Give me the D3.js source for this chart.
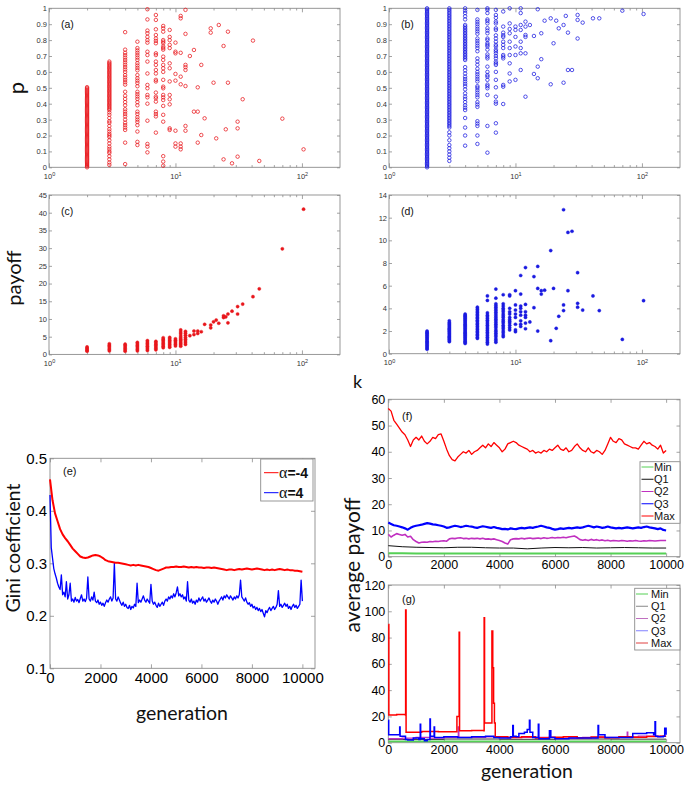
<!DOCTYPE html>
<html><head><meta charset="utf-8">
<script src="https://cdn.jsdelivr.net/npm/d3@7"></script>
<style>body{margin:0;background:#fff}svg{display:block}</style>
</head><body>
<svg id="c" width="685" height="785"></svg>
<script>
// ---------- DATA ----------
const degA = [2,3,4,5,6,7,8,9,10,11,12,13,14,15,16,17,19,20,21,22,24,25,26,28,31,34,41,46,70,103];
const pA = [
 [0,0.007,0.014,0.021,0.028,0.035,0.042,0.049,0.056,0.063,0.07,0.077,0.084,0.091,0.098,0.105,0.112,0.119,0.126,0.133,0.14,0.147,0.154,0.161,0.168,0.175,0.182,0.189,0.196,0.203,0.21,0.217,0.224,0.231,0.238,0.245,0.252,0.259,0.266,0.273,0.28,0.287,0.294,0.301,0.308,0.315,0.322,0.329,0.336,0.343,0.35,0.357,0.364,0.371,0.378,0.385,0.392,0.399,0.406,0.413,0.42,0.427,0.434,0.441,0.448,0.455,0.462,0.469,0.476,0.483,0.49,0.497,0.504],
 [0.015,0.03,0.05,0.07,0.09,0.1,0.115,0.13,0.15,0.17,0.19,0.2,0.21,0.225,0.24,0.26,0.28,0.29,0.31,0.33,0.345,0.36,0.368,0.376,0.384,0.392,0.4,0.408,0.416,0.424,0.432,0.44,0.448,0.456,0.464,0.472,0.48,0.488,0.496,0.504,0.512,0.52,0.528,0.536,0.544,0.552,0.56,0.568,0.576,0.584,0.592,0.6,0.608,0.616,0.624,0.632,0.64,0.648,0.656,0.665],
 [0.02,0.155,0.235,0.25,0.265,0.28,0.3,0.32,0.335,0.35,0.365,0.39,0.41,0.43,0.45,0.475,0.52,0.535,0.55,0.565,0.58,0.6,0.615,0.63,0.645,0.66,0.675,0.69,0.705,0.72,0.74,0.85],
 [0.14,0.16,0.225,0.265,0.285,0.3,0.315,0.335,0.35,0.39,0.41,0.43,0.445,0.46,0.475,0.51,0.53,0.545,0.56,0.58,0.61,0.625,0.64,0.655,0.675,0.69,0.705,0.72,0.735,0.75,0.79],
 [0.094,0.13,0.147,0.293,0.4,0.44,0.455,0.497,0.518,0.59,0.665,0.706,0.727,0.784,0.8,0.82,0.843,0.86,0.93,0.994],
 [0.218,0.32,0.335,0.35,0.413,0.434,0.444,0.47,0.54,0.55,0.59,0.612,0.644,0.665,0.706,0.717,0.78,0.795,0.81,0.832,0.868,0.927,0.958],
 [0.01,0.036,0.07,0.287,0.33,0.386,0.423,0.44,0.455,0.497,0.507,0.55,0.6,0.623,0.644,0.675,0.696,0.74,0.75,0.76,0.78,0.79,0.8,0.853,0.874,0.889],
 [0.235,0.245,0.396,0.428,0.455,0.54,0.623,0.654,0.75,0.77,0.8,0.82,0.864],
 [0.13,0.15,0.23,0.545,0.587,0.717,0.727,0.784],
 [0.113,0.13,0.15,0.522,0.57,0.72,0.937,0.952],
 [0.23,0.26,0.511,0.612,0.63,0.644,0.839,0.99],
 [0.7],[0.35,0.738],[0.155,0.35,0.503],[0.203,0.644],[0.308],[0.847,0.874],[0.532],[0.182],[0.895],
 [0.05,0.763],[0.239],[0.532,0.853],[0.025],[0.067,0.245,0.287],[0.428],[0.797],[0.04],[0.306],[0.113]
];
const degB = [2,3,4,5,6,7,8,9,10,11,12,13,14,15,16,17,19,20,21,22,24,25,26,28,31,34,41,46,70,103];
const pB = [
 [0,0.008,0.016,0.024,0.032,0.04,0.048,0.056,0.064,0.072,0.08,0.088,0.096,0.104,0.112,0.12,0.128,0.136,0.144,0.152,0.16,0.168,0.176,0.184,0.192,0.2,0.208,0.216,0.224,0.232,0.24,0.248,0.256,0.264,0.272,0.28,0.288,0.296,0.304,0.312,0.32,0.328,0.336,0.344,0.352,0.36,0.368,0.376,0.384,0.392,0.4,0.408,0.416,0.424,0.432,0.44,0.448,0.456,0.464,0.472,0.48,0.488,0.496,0.504,0.512,0.52,0.528,0.536,0.544,0.552,0.56,0.568,0.576,0.584,0.592,0.6,0.608,0.616,0.624,0.632,0.64,0.648,0.656,0.664,0.672,0.68,0.688,0.696,0.704,0.712,0.72,0.728,0.736,0.744,0.752,0.76,0.768,0.776,0.784,0.792,0.8,0.808,0.816,0.824,0.832,0.84,0.848,0.856,0.864,0.872,0.88,0.888,0.896,0.904,0.912,0.92,0.928,0.936,0.944,0.952,0.96,0.968,0.976,0.984,0.992,1.0],
 [0.04,0.06,0.08,0.1,0.12,0.14,0.17,0.2,0.22,0.25,0.26,0.27,0.28,0.29,0.3,0.31,0.32,0.33,0.34,0.35,0.36,0.37,0.38,0.39,0.4,0.41,0.42,0.43,0.44,0.45,0.46,0.47,0.48,0.49,0.5,0.51,0.52,0.53,0.54,0.55,0.56,0.57,0.58,0.59,0.6,0.61,0.62,0.63,0.64,0.65,0.66,0.67,0.68,0.69,0.7,0.71,0.72,0.73,0.74,0.75,0.76,0.77,0.78,0.79,0.8,0.81,0.82,0.83,0.84,0.85,0.86,0.87,0.88,0.89,0.9,0.91,0.92,0.93,0.94,0.95,0.96,0.97,0.98,0.99,1.0],
 [0.136,0.2,0.25,0.31,0.36,0.375,0.39,0.41,0.43,0.445,0.465,0.49,0.51,0.525,0.54,0.555,0.57,0.59,0.61,0.63,0.675,0.685,0.695,0.705,0.715,0.725,0.735,0.745,0.755,0.765,0.775,0.785,0.795,0.805,0.815,0.825,0.835,0.845,0.855,0.865,0.875,0.885,0.895,0.93,0.95,0.97,0.985,1.0],
 [0.147,0.2,0.26,0.275,0.29,0.38,0.395,0.41,0.44,0.455,0.47,0.485,0.5,0.51,0.54,0.555,0.57,0.585,0.6,0.62,0.645,0.665,0.685,0.73,0.75,0.765,0.78,0.795,0.81,0.84,0.855,0.87,0.885,0.9,0.915,0.93,0.99],
 [0.092,0.26,0.455,0.497,0.51,0.52,0.55,0.57,0.58,0.6,0.633,0.685,0.696,0.71,0.74,0.76,0.77,0.78,0.8,0.81,0.843,0.86,0.875,0.905,0.92,0.93,0.97,0.99,1.0],
 [0.218,0.277,0.4,0.413,0.444,0.503,0.55,0.6,0.644,0.654,0.665,0.685,0.7,0.717,0.73,0.74,0.76,0.77,0.79,0.81,0.83,0.864,0.874,0.905,0.916,0.94,0.958,0.99],
 [0.398,0.507,0.518,0.685,0.696,0.706,0.75,0.77,0.79,0.82,0.83,0.847,0.885,0.98],
 [0.54,0.59,0.654,0.706,0.75,0.79,0.843,0.87,0.905,1.0],
 [0.55,0.706,0.76,0.82,0.864,0.885],
 [0.612,0.717,0.75,0.79,0.864,0.895,0.97,1.0],
 [0.444,0.717,0.82,0.832,0.885,0.916],
 [0.895],[0.587,0.826],[0.56,0.633,0.994],[0.68,0.843],[0.922],[0.522,0.937],[0.78],[0.922],[0.874],
 [0.532,0.895],[0.952],[0.612,0.847],[0.612],[0.81,0.927,0.958],[0.91],[0.937],[0.937],[0.985],[0.964]
];
const degC = [2,3,4,5,6,7,8,9,10,11,12,13,14,15,16,17,19,20,21,22,24,25,26,28,31,34,41,46,70,103];
const payC = [
 [0.9,1.2,1.5,1.8,2.1],[1.0,1.4,1.8,2.2,2.6,3.0],[0.9,1.3,1.7,2.1,2.5,2.9],[1.0,1.4,1.8,2.2,2.6,3.0,3.4],
 [1.1,1.5,1.9,2.3,2.7,3.1,3.5,3.9],[1.3,1.7,2.1,2.5,2.9,3.3,3.7],[1.9,2.3,2.7,3.1,3.5,3.9,4.3,4.7],
 [2.0,2.4,2.8,3.2,3.6,4.0,4.4,4.8],[2.4,2.8,3.2,3.6,4.0,4.4],[2.3,2.7,3.1,3.5,3.9,4.3,4.7,5.2,5.8,6.3,6.9],
 [2.8,3.3,3.8,4.3,4.8,5.4,6.0,6.5],[5.3],[5.6,6.6],[5.9,6.6],[6.4],[8.5],[7.5,8.3],[9.2],[9.7],[8.8],
 [10.4,10.9],[10.6],[8.9,11.4],[12.2],[11.4,13.5],[14.2],[16.3],[18.5],[29.8],[41.0]
];
const degD = [2,3,4,5,6,7,8,9,10,11,12,13,14,15,16,17,19,20,21,22,24,26,28,31,34,41,46,70,103];
const payD = [
 [0.4,0.5,0.6,0.7,0.8,0.9,1.0,1.1,1.2,1.3,1.4,1.5,1.6,1.7,1.8,1.9,2.0],
 [1.06,1.15,1.25,1.35,1.45,1.55,1.65,1.75,1.85,1.95,2.05,2.15,2.25,2.35,2.45,2.55,2.65,2.75,2.9],
 [0.9,1.0,1.1,1.2,1.3,1.4,1.5,1.6,1.7,1.8,1.9,2.0,2.1,2.2,2.3,2.4,2.5,2.6,2.7,2.8,2.9,3.0,3.1,3.2,3.3,3.4,3.5],
 [1.35,1.45,1.6,1.7,1.85,1.95,2.1,2.2,2.35,2.45,2.6,2.7,2.85,2.95,3.1,3.2,3.35,3.45,3.6,3.7,3.85,3.95,4.1],
 [0.85,1.0,1.15,1.3,1.45,1.6,1.75,1.9,2.05,2.2,2.35,2.5,2.65,2.8,2.95,3.1,3.25,3.4,3.6,4.7,5.1],
 [1.0,1.15,1.3,1.5,1.65,1.8,1.95,2.1,2.3,2.45,2.6,2.75,2.9,3.05,3.2,3.35,3.5,3.65,3.8,3.95,4.1,4.25,4.4,4.9,5.7],
 [1.5,1.65,1.85,2.0,2.2,2.35,2.5,2.7,2.85,3.0,3.2,3.35,3.5,3.7,3.85,4.0,4.2,4.4,5.2],
 [2.1,2.3,2.5,2.7,2.85,3.0,3.2,3.5,3.7,4.0,5.1,5.2],
 [1.94,2.1,2.6,3.2,3.5,3.85,4.3,5.56],
 [2.4,2.6,2.9,3.4,3.7,4.0,4.2,5.26,6.9],
 [2.2,2.7,3.2,3.4,3.7,4.35,7.6],
 [2.8],[4.06,6.8],[2.0,5.76,7.7],[5.26,5.56],[5.6],[1.15,9.1],[5.76],[2.24],[3.3],
 [3.8,4.3,12.7],[5.56,10.7],[10.8],[4.1,4.44,7.15],[3.85],[5.1],[3.8],[1.26],[4.68]
];
const logMajor = [1,10,100];
const logMinor = [2,3,4,5,6,7,8,9,20,30,40,50,60,70,80,90];
const pTicks = [0,0.1,0.2,0.3,0.4,0.5,0.6,0.7,0.8,0.9,1];
const cTicks = [0,5,10,15,20,25,30,35,40,45];
const dTicks = [0,2,4,6,8,10,12,14];
const genTicks = [0,2000,4000,6000,8000,10000];

// (e) Gini coefficient
const genE100 = d3.range(0, 10001, 100);
const giniNeg = [
 0.46,0.42,0.395,0.38,0.365,0.355,0.348,0.342,0.335,0.328,
 0.323,0.318,0.313,0.311,0.31,0.311,0.313,0.315,0.316,0.315,
 0.313,0.31,0.306,0.304,0.303,0.302,0.301,0.301,0.3,0.299,
 0.298,0.297,0.296,0.297,0.296,0.297,0.296,0.295,0.294,0.293,
 0.291,0.289,0.287,0.286,0.288,0.29,0.292,0.292,0.293,0.293,
 0.294,0.293,0.293,0.294,0.293,0.292,0.293,0.292,0.293,0.292,
 0.292,0.291,0.292,0.292,0.291,0.292,0.291,0.29,0.289,0.288,
 0.287,0.288,0.288,0.287,0.288,0.289,0.288,0.289,0.29,0.289,
 0.288,0.289,0.29,0.289,0.288,0.287,0.288,0.287,0.288,0.287,
 0.288,0.289,0.288,0.287,0.288,0.287,0.287,0.286,0.286,0.285,
 0.284];
const genE50 = d3.range(0, 10001, 50);
const giniPos = [
 0.43,0.33,0.31,0.29,0.28,0.272,0.262,0.255,0.25,0.278,
 0.24,0.245,0.236,0.265,0.232,0.24,0.262,0.228,0.232,0.226,
 0.235,0.228,0.231,0.225,0.233,0.24,0.228,0.232,0.227,0.234,
 0.274,0.232,0.228,0.236,0.23,0.245,0.228,0.225,0.23,0.222,
 0.226,0.22,0.224,0.218,0.225,0.23,0.226,0.232,0.236,0.228,
 0.234,0.3,0.232,0.228,0.236,0.23,0.224,0.22,0.226,0.218,
 0.222,0.216,0.214,0.22,0.212,0.218,0.215,0.222,0.218,0.262,
 0.225,0.23,0.226,0.232,0.238,0.23,0.226,0.232,0.228,0.224,
 0.26,0.228,0.222,0.226,0.22,0.216,0.224,0.218,0.222,0.226,
 0.22,0.228,0.232,0.228,0.236,0.232,0.238,0.234,0.242,0.236,
 0.244,0.255,0.238,0.242,0.236,0.24,0.232,0.236,0.228,0.265,
 0.23,0.226,0.232,0.224,0.228,0.222,0.23,0.226,0.234,0.228,
 0.232,0.236,0.228,0.232,0.226,0.23,0.234,0.228,0.224,0.23,
 0.226,0.232,0.228,0.222,0.228,0.232,0.236,0.23,0.238,0.234,
 0.24,0.236,0.232,0.238,0.234,0.23,0.236,0.232,0.238,0.234,
 0.24,0.268,0.236,0.232,0.228,0.234,0.226,0.222,0.225,0.218,
 0.222,0.215,0.218,0.212,0.216,0.21,0.214,0.208,0.212,0.205,
 0.198,0.21,0.206,0.212,0.216,0.21,0.214,0.218,0.212,0.216,
 0.222,0.248,0.218,0.222,0.216,0.22,0.224,0.218,0.222,0.214,
 0.218,0.212,0.218,0.222,0.216,0.22,0.214,0.218,0.222,0.268,
 0.228];

// (f) average payoff, alpha = -4
const genF100 = d3.range(0, 10001, 100);
const genF500 = d3.range(0, 10001, 500);
const maxF = [
 56.5,55.5,52,50.5,49,47.5,46.5,44.5,42,44.5,
 45.5,44.5,46,44,43,44,45.5,45,46.5,46.8,
 44,41,38.5,37,36.5,38,39,40,39.5,40.5,
 39,40,40.5,41.5,42.5,41.5,43,42,43.5,42.5,
 41.5,40,41,43,43.5,44,43.5,42.5,42,41.5,
 41,40,40.5,39.5,40,39.5,40.5,40,41,40.5,
 41.5,42.5,41,40.5,41.5,40,40.5,42,43,41.5,
 40.5,40,41.5,40,39.5,40.5,40,39,40.5,43,
 45.5,44,43.5,45,44.5,43,42.5,42,41.5,41.5,
 41,42.5,44,43,43.5,42.5,42,41,42.5,39.5,
 40.5];
const q3F = [
 13,12.5,12,11.8,11.5,11.2,10.8,10.3,11,11.5,
 11.8,12,12.2,12.5,12.8,12.6,12.3,12.2,12,11.8,
 11.5,11,11.2,11.5,11.8,11.6,11.3,11.5,11.8,11.6,
 11.5,11.2,11,11.3,11.6,11.4,11.2,11,11.3,11,
 10.8,10.5,10.6,10.4,10.8,10.6,10.5,10.8,11,10.8,
 11,11.2,11,11.3,11.5,11.8,11.5,11.2,11,10.6,
 10.3,10.5,10.8,10.6,10.8,11,10.8,11,11.2,11,
 11.2,11.5,11.8,11.5,11.2,11.5,11.3,11,11.2,11.5,
 11.2,11,10.8,11,10.8,11,11.2,11,10.8,11,
 11.2,11,11.3,11.5,11.2,11,10.8,10.5,10.8,10.2,
 10];
const q2F = [
 8.5,7.5,8.2,8.8,8.5,8.2,8.5,7.5,7.8,6.5,
 5.8,5.2,5.5,5.6,5.5,5.8,5.7,5.9,5.8,6,
 6.1,5.9,6.8,7,6.9,7.1,7.2,6.9,7,6.8,
 7,6.9,7,6.8,7,6.7,6.8,6.6,6.8,6.5,
 6.2,5.8,5.2,4.8,6.5,6.8,6.9,6.8,7,6.8,
 7,7.1,6.9,7,7.1,6.9,7.2,7,7.1,7.3,
 7.1,7.3,7.2,7.4,7.2,7.5,7.7,7.9,7.3,6.5,
 6.3,6.5,6.2,6.6,6.3,6.5,6.2,6.4,6.1,6.3,
 6,6.2,6.1,6,6.2,6.1,5.9,6.1,6,6.2,
 6,5.9,6.1,6,6.2,6.1,6,6.1,6.2,6.2,
 6.2];
const q1F = [4.2,3.8,3.6,3.5,3.4,3.6,3.6,3.4,3.3,3.3,3.0,3.3,3.5,3.4,3.5,3.3,3.4,3.5,3.4,3.3,3.3];
const minF = [1.3,1.3,1.2,1.2,1.2,1.2,1.2,1.2,1.2,1.2,1.2,1.2,1.2,1.2,1.2,1.2,1.2,1.2,1.2,1.2,1.2];

// (g) average payoff, alpha = 4 (step-wise)
const gMaxGen = [0,20,300,620,624,640,1200,1800,2460,2470,2540,2550,2565,3000,3440,3450,3465,3720,3730,3760,3790,3820,3850,4300,4800,5300,5800,6300,6800,7300,7800,8300,8800,9300,9800,10000];
const gMaxVal = [90,21,21.5,21,101,8,8.6,8.3,8.4,20,20,84,9,9.3,9,95,15,15,85,57,30,15,4.5,4,4.6,3.6,4.2,4.5,3.8,4.4,3.8,4.5,4.2,4.8,5,5];
const gQ3Gen = [0,15,400,410,425,600,620,700,900,1100,1150,1165,1300,1400,1500,1515,1650,1665,2000,2500,3000,3500,3800,4000,4400,4480,4500,4600,4700,4900,5000,5080,5100,5200,5400,5420,5600,5800,5850,6000,6500,7000,7550,7570,7700,7800,8200,8800,9300,9550,9600,9620,9700,9900,9950,10000];
const gQ3Val = [17,6,6,12,5,5,2.5,2,3.5,2.5,14,3,1.5,2.5,18,5,12,4,4.5,4,4.5,5,4,3.5,4.5,13,5,4.5,7,8,10,17,8,4,14,3,3,9,4,3,3.5,3.5,13,6,6,4,4,7,7.5,6,16,5,4.5,5,11,6];
const gQ2Gen = [0,500,1000,1500,2000,2500,2520,2540,3000,3500,4000,5000,6000,7000,8500,8600,8620,9000,10000];
const gQ2Val = [3,3.5,4,3.5,4,4,12,4,4,4.5,4,4,3.5,4,4,8,4.5,5,5];
const gQ1Gen = [0,2000,4000,6000,8000,10000];
const gQ1Val = [2.5,2.8,2.6,2.8,2.7,2.8];
const gMinGen = [0,10000];
const gMinVal = [1,1];

const legendNames = ["Min","Q1","Q2","Q3","Max"];

// ---------- DRAWING ----------
const svg = d3.select("#c");
const FR = "#8c8c8c";
const TF = "'Liberation Sans', Arial, sans-serif";
const LF = "Lato, 'Open Sans', sans-serif";
const RED = "#ff0000", BLUE = "#0000ff";

function clean(sel, color, fs) {
  sel.select(".domain").remove();
  sel.selectAll(".tick line").attr("stroke", FR).attr("stroke-width", 0.8);
  sel.selectAll(".tick text").attr("fill", color).attr("font-size", fs).attr("font-family", TF);
  return sel;
}

function logPanel(x0, x1, yb, yt, yDom, yTicks) {
  const g = svg.append("g");
  const x = d3.scaleLog().domain([1, 200]).range([x0, x1]);
  const y = d3.scaleLinear().domain(yDom).range([yb, yt]);
  g.append("rect").attr("x", x0).attr("y", yt).attr("width", x1 - x0).attr("height", yb - yt)
    .attr("fill", "#fff").attr("stroke", FR).attr("stroke-width", 0.9);
  const bx = g.append("g").attr("transform", `translate(0,${yb})`)
    .call(d3.axisBottom(x).tickValues(logMajor).tickSize(-4).tickPadding(6).tickFormat(() => ""));
  clean(bx, "#333", 7.5);
  bx.selectAll(".tick text").each(function(d) {
    const t = d3.select(this);
    t.append("tspan").text("10");
    t.append("tspan").attr("dy", "-0.45em").attr("font-size", "5.5px").text(Math.round(Math.log10(d)));
  });
  clean(g.append("g").attr("transform", `translate(0,${yb})`)
    .call(d3.axisBottom(x).tickValues(logMinor).tickSize(-2.2).tickFormat(() => "")), "#333", 7);
  clean(g.append("g").attr("transform", `translate(0,${yt})`)
    .call(d3.axisTop(x).tickValues(logMajor).tickSize(-4).tickFormat(() => "")), "#333", 7);
  clean(g.append("g").attr("transform", `translate(0,${yt})`)
    .call(d3.axisTop(x).tickValues(logMinor).tickSize(-2.2).tickFormat(() => "")), "#333", 7);
  clean(g.append("g").attr("transform", `translate(${x0},0)`)
    .call(d3.axisLeft(y).tickValues(yTicks).tickSize(-3).tickPadding(2).tickFormat(d => String(d))), "#333", 7.5);
  clean(g.append("g").attr("transform", `translate(${x1},0)`)
    .call(d3.axisRight(y).tickValues(yTicks).tickSize(-3).tickFormat(() => "")), "#333", 7);
  return {g, x, y};
}

function scatter(P, degs, vals, color, filled) {
  const pts = degs.flatMap((k, i) => vals[i].map(v => [k, v]));
  P.g.append("g").selectAll("circle").data(pts).join("circle")
    .attr("cx", d => P.x(d[0])).attr("cy", d => P.y(d[1]))
    .attr("r", filled ? 1.6 : 1.75)
    .attr("fill", filled ? color : "none")
    .attr("stroke", color).attr("stroke-width", filled ? 0.4 : 0.75);
}

function panelLabel(txt, x, y, fs) {
  svg.append("text").attr("x", x).attr("y", y).attr("font-family", TF).attr("font-size", fs)
    .attr("fill", "#111").text(txt);
}

// (a) (b) (c) (d)
const PA = logPanel(49, 340, 167.3, 8.3, [0, 1], pTicks);
scatter(PA, degA, pA, "#e8161b", false);
const PB = logPanel(389, 680, 167.3, 8.3, [0, 1], pTicks);
scatter(PB, degB, pB, "#1a1ae0", false);
const PC = logPanel(49, 340, 354.4, 195, [0, 45], cTicks);
scatter(PC, degC, payC, "#e8161b", true);
const PD = logPanel(389, 680, 353.7, 195, [0, 14], dTicks);
scatter(PD, degD, payD, "#1a1ae0", true);

panelLabel("(a)", 61, 28, 10.5);
panelLabel("(b)", 401, 28, 10.5);
panelLabel("(c)", 61, 215, 10.5);
panelLabel("(d)", 401, 215, 10.5);

function rotLabel(txt, x, y, fs) {
  svg.append("text").attr("transform", `translate(${x},${y}) rotate(-90)`)
    .attr("text-anchor", "middle").attr("font-family", LF).attr("font-size", fs).attr("fill", "#111").text(txt);
}
rotLabel("p", 24, 88, 22);
rotLabel("payoff", 21, 278, 20);
svg.append("text").attr("x", 353).attr("y", 388).attr("font-family", LF).attr("font-size", 18).attr("fill", "#111").text("k");

// linear panel helper
function linPanel(x0, x1, yb, yt, xDom, yDom, yTicks, yFmt, fs, tl, padX, padY) {
  const g = svg.append("g");
  const x = d3.scaleLinear().domain(xDom).range([x0, x1]);
  const y = d3.scaleLinear().domain(yDom).range([yb, yt]);
  g.append("rect").attr("x", x0).attr("y", yt).attr("width", x1 - x0).attr("height", yb - yt)
    .attr("fill", "#fff").attr("stroke", FR).attr("stroke-width", 0.9);
  clean(g.append("g").attr("transform", `translate(0,${yb})`)
    .call(d3.axisBottom(x).tickValues(genTicks).tickSize(-tl).tickPadding(padX).tickFormat(d3.format("d"))), "#000", fs);
  clean(g.append("g").attr("transform", `translate(0,${yt})`)
    .call(d3.axisTop(x).tickValues(genTicks).tickSize(-tl).tickFormat(() => "")), "#000", fs);
  clean(g.append("g").attr("transform", `translate(${x0},0)`)
    .call(d3.axisLeft(y).tickValues(yTicks).tickSize(-tl).tickPadding(padY).tickFormat(yFmt)), "#000", fs);
  clean(g.append("g").attr("transform", `translate(${x1},0)`)
    .call(d3.axisRight(y).tickValues(yTicks).tickSize(-tl).tickFormat(() => "")), "#000", fs);
  const plot = g.append("g");
  return {g, plot, x, y};
}

// (e)
const PE = linPanel(50, 315, 668.3, 458.3, [0, 10500], [0.1, 0.5], [0.1,0.2,0.3,0.4,0.5], d3.format(".1f"), 15, 4, 4, 3);
const lineE = d3.line().x(d => PE.x(d[0])).y(d => PE.y(d[1]));
PE.plot.append("path").attr("d", lineE(genE50.map((g, i) => [g, giniPos[i]])))
  .attr("fill", "none").attr("stroke", BLUE).attr("stroke-width", 1.3).attr("stroke-linejoin", "round");
PE.plot.append("path").attr("d", lineE(genE100.map((g, i) => [g, giniNeg[i]])))
  .attr("fill", "none").attr("stroke", RED).attr("stroke-width", 2).attr("stroke-linejoin", "round");
panelLabel("(e)", 63, 475, 11);
// legend (e)
const lgE = svg.append("g");
lgE.append("rect").attr("x", 260.7).attr("y", 459).attr("width", 52.3).attr("height", 42)
  .attr("fill", "#fff").attr("stroke", FR).attr("stroke-width", 0.9);
[["-4", RED, 472.7], ["4", BLUE, 492.7]].forEach(([v, c, yy]) => {
  lgE.append("line").attr("x1", 264).attr("x2", 278.5).attr("y1", yy).attr("y2", yy).attr("stroke", c).attr("stroke-width", 1);
  const t = lgE.append("text").attr("x", 279).attr("y", yy + 5).attr("fill", "#111");
  t.append("tspan").attr("font-family", "'Liberation Serif', serif").attr("font-size", 16).text("α");
  t.append("tspan").attr("font-family", TF).attr("font-weight", "bold").attr("font-size", 14).text("=" + v);
});
rotLabel("Gini coefficient", 20, 548, 19.5);
svg.append("text").attr("x", 182).attr("y", 720).attr("text-anchor", "middle").attr("font-family", LF)
  .attr("font-size", 19.5).attr("fill", "#111").text("generation");

// (f)
const PF = linPanel(388.3, 680, 556.7, 399.3, [0, 10500], [0, 60], [0,10,20,30,40,50,60], d3.format("d"), 12.5, 3.5, 3, 3);
const lineF = d3.line().x(d => PF.x(d[0])).y(d => PF.y(d[1]));
const fSeries = [
  [genF500, minF, "#55d055", 2],
  [genF500, q1F, "#111111", 1],
  [genF100, q2F, "#c030c0", 1.6],
  [genF100, q3F, BLUE, 2.2],
  [genF100, maxF, RED, 1.3]
];
fSeries.forEach(([gx, vals, c, w]) => {
  PF.plot.append("path").attr("d", lineF(gx.map((g, i) => [g, vals[i]])))
    .attr("fill", "none").attr("stroke", c).attr("stroke-width", w).attr("stroke-linejoin", "round");
});
panelLabel("(f)", 402, 420, 11);
function legend(x, y, w, h, ys, colors, lx1, lx2, tx) {
  const lg = svg.append("g");
  lg.append("rect").attr("x", x).attr("y", y).attr("width", w).attr("height", h)
    .attr("fill", "#fff").attr("stroke", FR).attr("stroke-width", 0.9);
  legendNames.forEach((n, i) => {
    const yy = ys + i * 12.25;
    lg.append("line").attr("x1", lx1).attr("x2", lx2).attr("y1", yy).attr("y2", yy)
      .attr("stroke", colors[i]).attr("stroke-width", 1);
    lg.append("text").attr("x", tx).attr("y", yy + 3.9).attr("font-family", TF).attr("font-size", 11)
      .attr("fill", "#111").text(n);
  });
}
legend(640, 461.7, 40, 61.6, 467, ["#55d055", "#111111", "#c030c0", BLUE, RED], 641.5, 653.5, 654);

// (g)
const PG = linPanel(388.3, 680, 742.7, 585, [0, 10500], [0, 120], [0,20,40,60,80,100,120], d3.format("d"), 12.5, 3.5, 2, 3);
const lineG = d3.line().curve(d3.curveStepAfter).x(d => PG.x(d[0])).y(d => PG.y(d[1]));
const gSeries = [
  [gMinGen, gMinVal, "#55d055", 1.6],
  [gQ1Gen, gQ1Val, "#333333", 1],
  [gQ2Gen, gQ2Val, "#c030c0", 1.3],
  [gMaxGen, gMaxVal, RED, 1.5],
  [gQ3Gen, gQ3Val, BLUE, 1.5]
];
gSeries.forEach(([gx, vals, c, w]) => {
  PG.plot.append("path").attr("d", lineG(gx.map((g, i) => [g, vals[i]])))
    .attr("fill", "none").attr("stroke", c).attr("stroke-width", w);
});
panelLabel("(g)", 402, 603, 11);
legend(634.7, 588.3, 45.3, 61.7, 594, ["#55d055", "#888888", "#c070c0", "#8080ff", "#e04040"], 636, 648, 651);

rotLabel("average payoff", 360, 565, 21);
svg.append("text").attr("x", 527).attr("y", 778).attr("text-anchor", "middle").attr("font-family", LF)
  .attr("font-size", 19.5).attr("fill", "#111").text("generation");
</script>
</body></html>
